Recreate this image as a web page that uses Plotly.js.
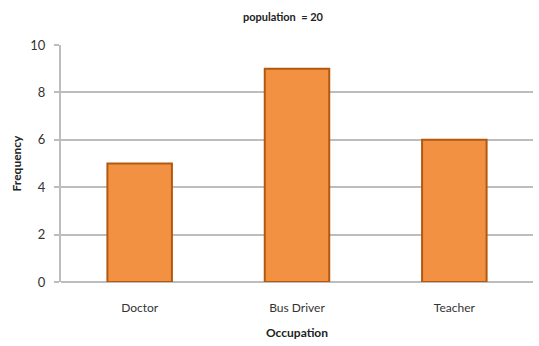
<!DOCTYPE html>
<html><head><meta charset="utf-8">
<script src="https://cdn.plot.ly/plotly-3.0.1.min.js"></script>
<style>html,body{margin:0;padding:0;background:#fff}#c{width:539px;height:346px}</style>
</head><body><div id="c"></div>
<script>
const occupations = ["Doctor", "Bus Driver", "Teacher"];
const frequency = [5, 9, 6];
const yTicks = [0, 2, 4, 6, 8, 10];

const font = "Lato, 'Open Sans', sans-serif";
Plotly.newPlot("c", [{
  type: "bar",
  x: occupations,
  y: frequency,
  marker: {color: "#f39143", line: {color: "#b3580f", width: 2}},
  hoverinfo: "none"
}], {
  width: 539, height: 346,
  margin: {l: 61, r: 6, t: 45, b: 64},
  paper_bgcolor: "#fff", plot_bgcolor: "#fff",
  bargap: 0.59,
  showlegend: false,
  title: {text: "<b>population  = 20</b>", font: {family: font, size: 11, color: "#222"}, x: 0.525, xanchor: "center", y: 0.95, yanchor: "middle"},
  xaxis: {
    title: {text: "<b>Occupation</b>", font: {family: font, size: 12, color: "#222"}, standoff: 14},
    tickfont: {family: font, size: 12, color: "#333"},
    ticklabelstandoff: 17,
    showline: false, ticks: "", showgrid: false, zeroline: false
  },
  yaxis: {
    range: [0, 10], tickvals: yTicks, ticktext: yTicks.map(String),
    title: {text: "<b>Frequency</b>", font: {family: font, size: 12, color: "#222"}, standoff: 6},
    tickfont: {family: font, size: 13, color: "#333"},
    ticklabelstandoff: 6,
    showgrid: true, gridcolor: "#bdbdbd", gridwidth: 2,
    showline: true, linecolor: "#bdbdbd", linewidth: 2,
    ticks: "outside", ticklen: 5, tickcolor: "#bdbdbd", tickwidth: 2,
    zeroline: true, zerolinecolor: "#bdbdbd", zerolinewidth: 2
  }
}, {staticPlot: true});
</script></body></html>
